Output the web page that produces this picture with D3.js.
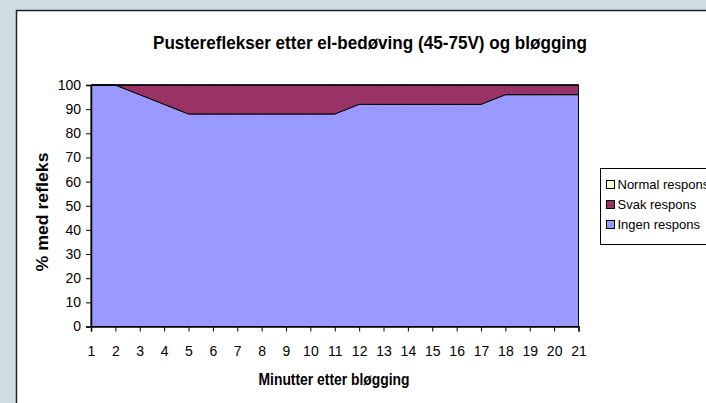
<!DOCTYPE html>
<html>
<head>
<meta charset="utf-8">
<script src="https://cdn.jsdelivr.net/npm/d3@7"></script>
<style>
body { margin: 0; background: #d0dce4; }
svg { display: block; font-family: "Liberation Sans", Arial, sans-serif; }
</style>
</head>
<body>
<svg></svg>
<script>
var minutes = d3.range(1, 22);
var ingen  = [100, 100, 96, 92, 88, 88, 88, 88, 88, 88, 88, 92, 92, 92, 92, 92, 92, 96, 96, 96, 96];
var svak   = [0, 0, 4, 8, 12, 12, 12, 12, 12, 12, 12, 8, 8, 8, 8, 8, 8, 4, 4, 4, 4];
var normal = [0, 0, 0, 0, 0, 0, 0, 0, 0, 0, 0, 0, 0, 0, 0, 0, 0, 0, 0, 0, 0];
var yTicks = d3.range(0, 101, 10);

var seriesNames = ["Ingen respons", "Svak respons", "Normal respons"];
var colors = {"Ingen respons": "#9999ff", "Svak respons": "#993366", "Normal respons": "#ffffcc"};

var width = 706, height = 403;
var margin = {top: 85, left: 91, right: 128, bottom: 76};

var svg = d3.select("svg").attr("width", width).attr("height", height);

// white chart box
svg.append("rect")
    .attr("x", 16.5).attr("y", 10.5)
    .attr("width", width).attr("height", height)
    .attr("fill", "#fff").attr("stroke", "#222").attr("stroke-width", 1.5);

var x = d3.scaleLinear().domain([1, 21]).range([margin.left, width - margin.right + 0.5]);
var y = d3.scaleLinear().domain([0, 100]).range([height - margin.bottom - 0.5, margin.top]);

var table = minutes.map(function(m, i) {
  return {min: m, "Ingen respons": ingen[i], "Svak respons": svak[i], "Normal respons": normal[i]};
});
var stack = d3.stack().keys(seriesNames)(table);

var area = d3.area()
    .x(function(d) { return x(d.data.min); })
    .y0(function(d) { return y(d[0]); })
    .y1(function(d) { return y(d[1]); });

var g = svg.append("g");
g.selectAll("path.layer")
  .data(stack)
  .enter().append("path")
    .attr("class", "layer")
    .attr("d", area)
    .attr("fill", function(d) { return colors[d.key]; })
    .attr("stroke", "#000")
    .attr("stroke-width", 1)
    .attr("stroke-linejoin", "round");

// axes
var yAxis = svg.append("g")
    .attr("transform", "translate(" + margin.left + ",0)")
    .call(d3.axisLeft(y).tickValues(yTicks).tickSize(5).tickPadding(5));
var xAxis = svg.append("g")
    .attr("transform", "translate(0," + y(0) + ")")
    .call(d3.axisBottom(x).tickValues(minutes).tickSize(5).tickPadding(15));

[yAxis, xAxis].forEach(function(a) {
  a.attr("font-size", 14);
  a.select(".domain").attr("stroke", "#000").attr("stroke-width", 1.5);
  a.selectAll(".tick line").attr("stroke", "#000");
  a.selectAll(".tick text").attr("font-size", 14).attr("fill", "#000")
    .attr("font-family", "Liberation Sans, Arial, sans-serif");
});

// titles
svg.append("text")
    .attr("x", 370).attr("y", 49)
    .attr("text-anchor", "middle")
    .attr("font-size", 18).attr("font-weight", "bold")
    .attr("textLength", 434).attr("lengthAdjust", "spacingAndGlyphs")
    .text("Pustereflekser etter el-bedøving (45-75V) og bløgging");

svg.append("text")
    .attr("x", 334).attr("y", 385)
    .attr("text-anchor", "middle")
    .attr("font-size", 16).attr("font-weight", "bold")
    .attr("textLength", 151).attr("lengthAdjust", "spacingAndGlyphs")
    .text("Minutter etter bløgging");

svg.append("text")
    .attr("transform", "translate(48,212) rotate(-90)")
    .attr("text-anchor", "middle")
    .attr("font-size", 16).attr("font-weight", "bold")
    .attr("textLength", 119).attr("lengthAdjust", "spacingAndGlyphs")
    .text("% med refleks");

// legend
var legend = svg.append("g").attr("transform", "translate(600.5,168.5)");
legend.append("rect")
    .attr("width", 120).attr("height", 76)
    .attr("fill", "#fff").attr("stroke", "#000").attr("stroke-width", 1);

var legendItems = seriesNames.slice().reverse();
var li = legend.selectAll("g.item")
  .data(legendItems)
  .enter().append("g")
    .attr("class", "item")
    .attr("transform", function(d, i) { return "translate(6," + (16 + i * 20) + ")"; });
li.append("rect")
    .attr("x", 0).attr("y", -4).attr("width", 8).attr("height", 8)
    .attr("fill", function(d) { return colors[d]; })
    .attr("stroke", "#000").attr("stroke-width", 1);
li.append("text")
    .attr("x", 11).attr("dy", "0.35em")
    .attr("font-size", 13)
    .text(function(d) { return d; });
</script>
</body>
</html>
